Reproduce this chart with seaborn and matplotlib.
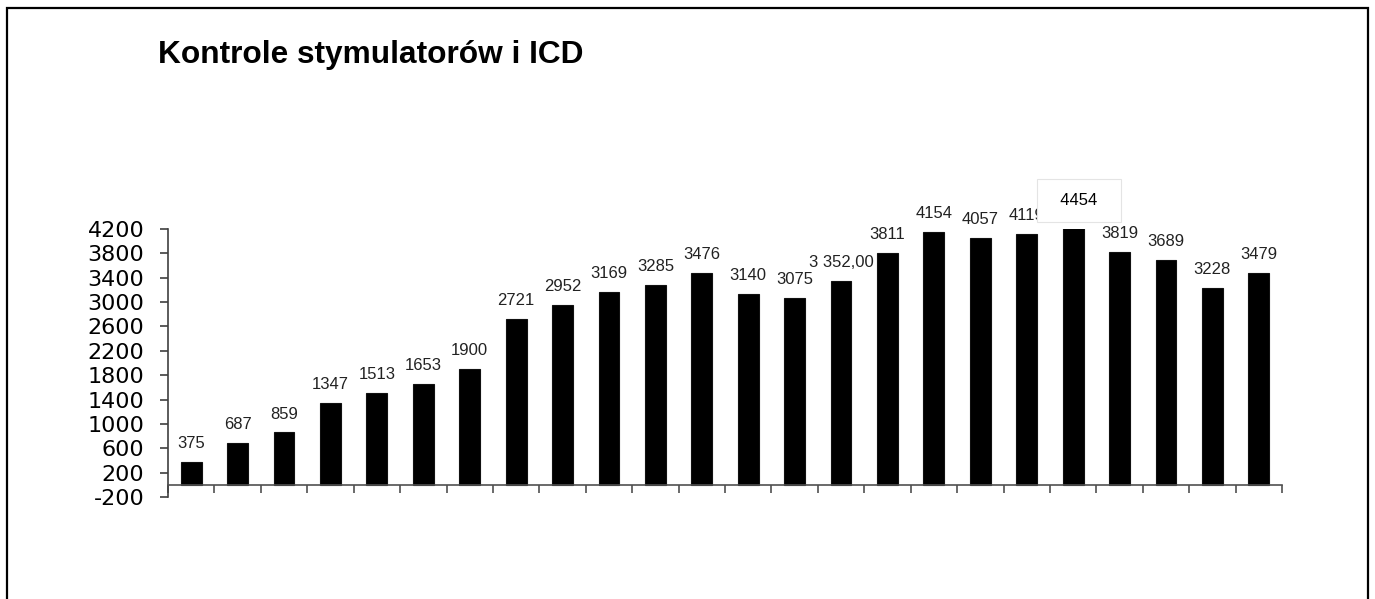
import matplotlib
matplotlib.use("Agg")
import matplotlib.pyplot as plt
import seaborn as sns
import numpy as np
import pandas as pd
from matplotlib.patches import Rectangle

categories = [str(i) for i in range(1, 25)]
values = [375, 687, 859, 1347, 1513, 1653, 1900, 2721, 2952, 3169, 3285, 3476,
          3140, 3075, 3352, 3811, 4154, 4057, 4119, 4454, 3819, 3689, 3228, 3479]
label_texts = ["375", "687", "859", "1347", "1513", "1653", "1900", "2721", "2952",
               "3169", "3285", "3476", "3140", "3075", "3 352,00", "3811", "4154",
               "4057", "4119", "4454", "3819", "3689", "3228", "3479"]
yticks = list(range(-200, 4201, 400))
title = "Kontrole stymulatorów i ICD"
boxed_index = 19

sns.set_style("white")
plt.rcParams['font.family'] = ['Liberation Sans', 'DejaVu Sans']

df = pd.DataFrame({"cat": categories, "val": values})

fig = plt.figure(figsize=(13.75, 5.99), dpi=100)
ax = fig.add_axes([168 / 1375, 1 - 497 / 599, (1282 - 168) / 1375, (497 - 229) / 599])

sns.barplot(data=df, x="cat", y="val", color="black", saturation=1, width=0.45,
            edgecolor="#111111", linewidth=0.8, ax=ax, errorbar=None)

ax.set_xlim(-0.5, len(categories) - 0.5)
ax.set_ylim(yticks[0], yticks[-1])
ax.set_yticks(yticks)
ax.set_yticklabels([str(t) for t in yticks], family=['DejaVu Sans'], fontsize=16, color="black")
ax.set_xticks(np.arange(-0.5, len(categories), 1.0))
ax.set_xticklabels([])
ax.set_xlabel("")
ax.set_ylabel("")

for s in ["top", "right"]:
    ax.spines[s].set_visible(False)
ax.spines["bottom"].set_position(("data", 0))
ax.spines["bottom"].set_color("#505050")
ax.spines["left"].set_color("#404040")
ax.spines["bottom"].set_linewidth(1.2)
ax.spines["left"].set_linewidth(1.2)
ax.tick_params(axis="y", direction="out", length=6, width=1.2, color="#404040", pad=11, left=True)
ax.tick_params(axis="x", direction="out", length=6, width=1.2, color="#505050", bottom=True)

for i, (v, t) in enumerate(zip(values, label_texts)):
    if i == boxed_index:
        ax.annotate("  " + t + "  ", xy=(i, v), xytext=(4, 6), textcoords="offset points",
                    ha="center", va="baseline", fontsize=12, color="black",
                    family=['Liberation Sans', 'DejaVu Sans'], zorder=10,
                    annotation_clip=False,
                    bbox=dict(boxstyle="square,pad=0.85", facecolor="white",
                              edgecolor="#e4e4e4", linewidth=0.8))
    else:
        ax.annotate(t, xy=(i, min(v, yticks[-1])), xytext=(0, 10), textcoords="offset points",
                    ha="center", va="baseline", fontsize=12, color="#222222",
                    family=['Liberation Sans', 'DejaVu Sans'],
                    zorder=5, annotation_clip=False)

fig.text(158 / 1375, 1 - 63 / 599, title, fontsize=22.8, fontweight="bold",
         ha="left", va="baseline", color="black", family=['Liberation Sans', 'DejaVu Sans'])

fig.patches.append(Rectangle((7 / 1375, -0.05), (1368 - 7) / 1375, 1.05 - 8 / 599,
                             transform=fig.transFigure, fill=False, edgecolor="black",
                             linewidth=1.6, clip_on=False))

fig.savefig("out.png", dpi=100, facecolor="white")
